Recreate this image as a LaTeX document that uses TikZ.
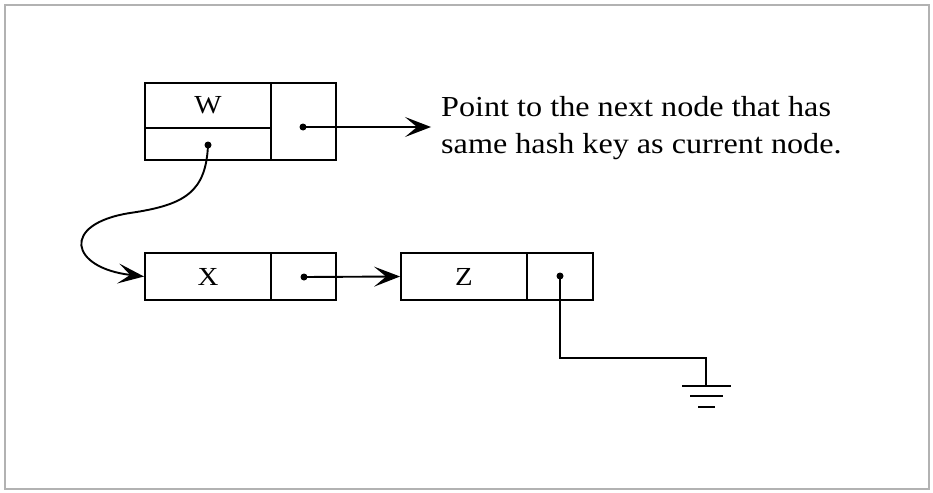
\documentclass[tikz,border=0pt]{standalone}
\usepackage{fontspec}
\setmainfont{Liberation Serif}
\newfontfamily\widefont[FakeStretch=1.11]{Liberation Serif}
\usetikzlibrary{arrows.meta}
\begin{document}
\begin{tikzpicture}[x=1pt,y=-1pt,
  cell/.style={draw, line width=1.9pt, inner sep=0pt, font=\widefont\fontsize{26}{26}\selectfont},
  wire/.style={line width=1.9pt},
  arr/.style={line width=1.9pt, -{Stealth[length=26pt,width=20pt,inset=12pt]}},
  frame/.style={draw=black!30, line width=1.2pt},
  dotr/.style={fill=black}
]
\useasboundingbox (0,0) rectangle (933,492);
\draw[frame] (5,5) rectangle (929,489);
% W record
\node[cell, minimum width=126pt, minimum height=45pt] (Wl) at (208,105.5) {W};
\node[cell, minimum width=126pt, minimum height=32pt] (Wb) at (208,144) {};
\node[cell, minimum width=65pt, minimum height=77pt] (Wr) at (303.5,121.5) {};
% X record
\node[cell, minimum width=126pt, minimum height=47pt] (Xl) at (208,276.5) {X};
\node[cell, minimum width=65pt, minimum height=47pt] (Xr) at (303.5,276.5) {};
% Z record
\node[cell, minimum width=126pt, minimum height=47pt] (Zl) at (464,276.5) {Z};
\node[cell, minimum width=66pt, minimum height=47pt] (Zr) at (560,276.5) {};
% text
\node[anchor=west, inner xsep=10pt, inner ysep=0pt, align=left,
      font=\widefont\fontsize{29}{37}\selectfont] (txt) at (431,128)
  {Point to the next node that has\\same hash key as current node.};
% dots
\coordinate (dW) at (303,127);
\coordinate (dWb) at (208,145);
\coordinate (dX) at (304,277);
\coordinate (dZ) at (560,276);
\foreach \p in {dW,dWb,dX,dZ} \fill[dotr] (\p) circle (3.5pt);
% connectors
\draw[arr] (dW) -- (dW -| txt.west);
\draw[arr] (dX) -- (Zl.west);
\draw[arr] (dWb) .. controls (206,192) and (185,205) .. (130,213)
                 .. controls (60,224) and (70,268) .. (Xl.west);
% ground
\coordinate (g) at (706,386);
\draw[wire] (dZ) |- (706,358) -- (g);
\draw[wire] ([xshift=-24pt]g) -- ([xshift=25pt]g);
\draw[wire] ([xshift=-16pt]g) ++(0,10) -- ++(33,0);
\draw[wire] ([xshift=-8pt]g) ++(0,21) -- ++(17,0);
\end{tikzpicture}
\end{document}
